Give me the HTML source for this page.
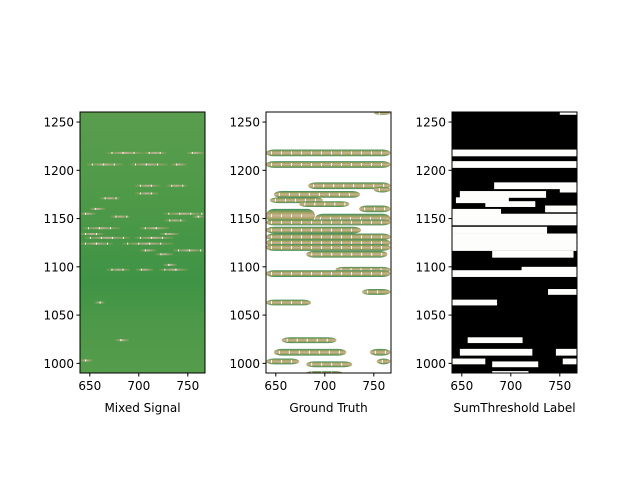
<!DOCTYPE html>
<html><head><meta charset="utf-8"><style>
body{margin:0;background:#fff;}
svg text{font-family:"DejaVu Sans","Liberation Sans",sans-serif;font-size:12px;fill:#000;}
</style></head><body>
<svg id="fig" width="640" height="480" xmlns="http://www.w3.org/2000/svg">
<defs>
<linearGradient id="bg" x1="0" y1="0" x2="0" y2="1">
<stop offset="0" stop-color="#5a9d4e"/><stop offset="0.3" stop-color="#4f9a49"/>
<stop offset="0.65" stop-color="#3f9345"/><stop offset="0.8" stop-color="#4c9949"/><stop offset="1" stop-color="#559c4b"/>
</linearGradient>
<linearGradient id="st" x1="0" y1="0" x2="1" y2="0">
<stop offset="0" stop-color="#a9a45e" stop-opacity="0.3"/><stop offset="0.5" stop-color="#d4b6a6"/><stop offset="1" stop-color="#a9a45e" stop-opacity="0.3"/>
</linearGradient>
<linearGradient id="gt" x1="0" y1="0" x2="0" y2="1">
<stop offset="0" stop-color="#3f8e60"/><stop offset="0.3" stop-color="#a9a45e"/><stop offset="0.5" stop-color="#cdb49a"/><stop offset="0.7" stop-color="#a9a45e"/><stop offset="1" stop-color="#3f8e60"/>
</linearGradient>
</defs>
</svg>
<script>
// data (x0, x1, y-center, thickness)
const truthX0 = [750,640,640,683,750,648,644,674,735,640,690,640,640,640,640,640,681,711,640,738,640,656,648,746,640,681,753,681];
const truthX1 = [767,767,767,767,767,736,698,725,767,690,767,767,737,767,767,767,764,767,767,767,686,712,722,767,674,728,767,718];
const truthY  = [1259,1218,1206,1184,1180,1175,1169,1165,1160,1153,1150,1146,1138,1131,1125,1120,1113,1097,1093,1074,1063,1024,1011.5,1011.5,1002,999,1002,990];
const truthH  = [3,7,7,7,6,7,6,6,7,14,10,6,7,7,7,7,7,6,7,6,6,6,7,7,6,6,6,4];
const mixX0 = [667,705,749,647,691,733,696,728,696,660,650,640,725,671,755,726,643,701,640,722,645,696,640,683,701,735,717,725,667,697,721,655,676,640];
const mixX1 = [705,728,767,684,730,749,722,749,720,681,666,656,767,691,767,748,681,731,664,741,691,735,674,735,718,767,735,739,691,715,750,665,690,653];
const mixY  = [1218,1218,1218,1206,1206,1206,1184,1184,1176,1171,1160,1155,1155,1152,1152,1148,1140,1140,1134,1134,1130,1130,1124,1124,1117,1117,1113,1102,1097,1097,1097,1063,1024,1003];
const xTicks = [650,700,750];
const yTicks = [1000,1050,1100,1150,1200,1250];
const panelLefts = [80,266,452];
const panelTitles = ["Mixed Signal","Ground Truth","SumThreshold Label"];

const NS="http://www.w3.org/2000/svg", svg=document.getElementById('fig');
const TOP=112, H=261, W=125;
function sx(l,x){return l+(x-640)*0.98;}
function sy(y){return TOP+(1260.4-y)*(H/270.4);}
function mk(tag,a,parent){const e=document.createElementNS(NS,tag);for(const k in a)e.setAttribute(k,a[k]);(parent||svg).appendChild(e);return e;}

panelLefts.forEach((L,p)=>{
  const g=mk('g',{});
  
  
  const bgFill=p===0?'url(#bg)':(p===1?'#fff':'#000');
  const bgr=mk('rect',{x:L,y:TOP,width:W,height:H,fill:bgFill},g);
  
  
  const clip=mk('clipPath',{id:'c'+p},g);mk('rect',{x:L,y:TOP,width:W,height:H},clip);
  const marks=mk('g',{'clip-path':'url(#c'+p+')'},g);
  if(p===0){
    for(let i=0;i<mixY.length;i++){
      const x0=sx(L,mixX0[i]),x1=sx(L,mixX1[i]),y=sy(mixY[i]);
      const r=mk('rect',{x:x0,y:y-1,width:x1-x0,height:2,fill:'url(#st)',opacity:0.85},marks);
      
      
      for(let xx=x0+5;xx<x1-3;xx+=11) mk('rect',{x:xx,y:y-1,width:1,height:2,fill:'#fff',opacity:0.9},marks);
    }
  } else {
    for(let i=0;i<truthY.length;i++){
      const x0=sx(L,truthX0[i]),x1=sx(L,truthX1[i]),yc=sy(truthY[i]),h=truthH[i]*(H/270.4);
      let r;
      if(p===1){
        r=mk('rect',{x:x0,y:yc-h/2,width:x1-x0,height:h,rx:8,ry:h/2,fill:'url(#gt)'},marks);
        for(let xx=x0+5;xx<x1-4;xx+=10) mk('rect',{x:xx,y:yc-1.5,width:1,height:3,fill:'#fff'},marks);
      } else {
        r=mk('rect',{x:x0,y:yc-h/2,width:x1-x0,height:h,fill:'#fdfdfb'},marks);
      }
      
      
    }
  }
  mk('rect',{x:L,y:TOP,width:W,height:H,fill:'none',stroke:'#000','stroke-width':1},g);
  xTicks.forEach(t=>{const x=sx(L,t);mk('line',{x1:x,x2:x,y1:TOP+H,y2:TOP+H+3.5,stroke:'#000'},g);
    const tx=mk('text',{x:x,y:TOP+H+17,'text-anchor':'middle'},g);tx.textContent=t;
    
    });
  yTicks.forEach(t=>{const y=sy(t);mk('line',{x1:L-3.5,x2:L,y1:y,y2:y,stroke:'#000'},g);
    const tx=mk('text',{x:L-6,y:y+4.5,'text-anchor':'end'},g);tx.textContent=t;
    
    });
  const tt=mk('text',{x:L+W/2,y:TOP+H+39,'text-anchor':'middle'},g);tt.textContent=panelTitles[p];
  
  
});
</script>
</body></html>
